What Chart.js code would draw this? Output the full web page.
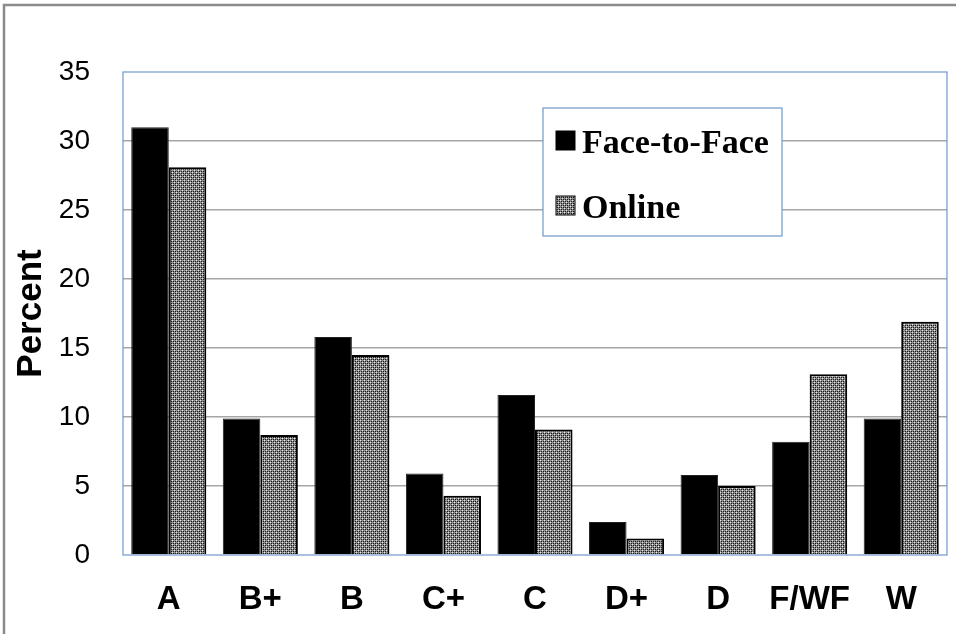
<!DOCTYPE html>
<html>
<head>
<meta charset="utf-8">
<script src="https://cdn.jsdelivr.net/npm/chart.js@4"></script>
<style>
  body { margin: 0; background: #fff; }
</style>
</head>
<body>
<canvas id="myChart" width="956" height="634"></canvas>
<script>
'use strict';

// data
const grades = ['A', 'B+', 'B', 'C+', 'C', 'D+', 'D', 'F/WF', 'W'];
const faceToFace = [31.0, 9.9, 15.8, 5.9, 11.6, 2.4, 5.8, 8.2, 9.9];
const online = [28.1, 8.7, 14.5, 4.3, 9.1, 1.2, 5.0, 13.1, 16.9];
const yTicks = [0, 5, 10, 15, 20, 25, 30, 35];

// gray dotted fill for the online bars
function makePattern() {
  const c = document.createElement('canvas');
  c.width = 4;
  c.height = 4;
  const p = c.getContext('2d');
  p.fillStyle = '#8e8e8e';
  p.fillRect(0, 0, 4, 4);
  p.fillStyle = '#e8e8e8';
  p.fillRect(0, 0, 1, 1);
  p.fillRect(2, 2, 1, 1);
  p.fillStyle = '#1a1a1a';
  p.fillRect(1, 1, 1, 1);
  p.fillRect(3, 3, 1, 1);
  p.fillRect(1, 3, 1, 1);
  p.fillRect(3, 1, 1, 1);
  return p.createPattern(c, 'repeat');
}

const ctx = document.getElementById('myChart');
const pattern = makePattern();
const frameBlue = '#6f98cc';

// outer gray frame and blue plot border
const framePlugin = {
  id: 'frames',
  beforeDraw(chart) {
    const g = chart.ctx;
    g.save();
    g.strokeStyle = '#8a8a8a';
    g.lineWidth = 2.5;
    g.beginPath();
    g.moveTo(4, 634);
    g.lineTo(4, 5);
    g.lineTo(956, 5);
    g.stroke();
    g.restore();
  },
  beforeDatasetsDraw(chart) {
    const a = chart.chartArea;
    const g = chart.ctx;
    g.save();
    g.strokeStyle = frameBlue;
    g.lineWidth = 1.2;
    g.strokeRect(a.left, a.top, a.right - a.left, a.bottom - a.top);
    g.restore();
  }
};

// legend box sitting inside the plot
const boxLegend = {
  id: 'boxLegend',
  afterDraw(chart) {
    const g = chart.ctx;
    g.save();
    g.fillStyle = '#fff';
    g.fillRect(543, 108, 239, 128);
    g.strokeStyle = frameBlue;
    g.lineWidth = 1.2;
    g.strokeRect(543, 108, 239, 128);
    g.font = 'bold 34px "Liberation Serif"';
    g.textBaseline = 'alphabetic';
    chart.data.datasets.forEach((ds, i) => {
      const y = 131 + i * 65;
      g.fillStyle = ds.backgroundColor;
      g.fillRect(556, y, 19, 19);
      g.strokeStyle = '#000';
      g.lineWidth = 1;
      g.strokeRect(556, y, 19, 19);
      g.fillStyle = '#000';
      g.fillText(ds.label, 582, y + 22);
    });
    g.restore();
  }
};

new Chart(ctx, {
  type: 'bar',
  data: {
    labels: grades,
    datasets: [
      {
        label: 'Face-to-Face',
        data: faceToFace,
        backgroundColor: '#000000',
        borderColor: '#222222',
        borderWidth: 1
      },
      {
        label: 'Online',
        data: online,
        backgroundColor: pattern,
        borderColor: '#000000',
        borderWidth: 2
      }
    ]
  },
  options: {
    responsive: false,
    animation: false,
    layout: { padding: { top: 72, right: 9, left: 0, bottom: 0 } },
    datasets: {
      bar: { categoryPercentage: 0.82, barPercentage: 1 }
    },
    plugins: {
      legend: { display: false },
      tooltip: { enabled: false }
    },
    scales: {
      x: {
        grid: { display: false, drawTicks: false },
        border: { display: false },
        ticks: {
          color: '#000',
          padding: 25,
          font: { family: '"Liberation Sans", Arial', size: 33, weight: 'bold' }
        },
        afterFit(scale) { scale.height = 79; }
      },
      y: {
        min: 0,
        max: 35,
        afterBuildTicks(scale) {
          scale.ticks = yTicks.map(v => ({ value: v }));
        },
        grid: {
          drawTicks: false,
          lineWidth: 1.5,
          color: c => (c.tick && (c.tick.value === 0 || c.tick.value === 35)) ? 'rgba(0,0,0,0)' : '#a6a6a6'
        },
        border: { display: false },
        ticks: {
          color: '#000',
          padding: 33,
          font: { family: '"Liberation Sans", Arial', size: 28 }
        },
        title: {
          display: true,
          text: 'Percent',
          color: '#000',
          padding: { top: 10, bottom: 0 },
          font: { family: '"Liberation Sans", Arial', size: 35, weight: 'bold' }
        },
        afterFit(scale) { scale.width = 123; }
      }
    }
  },
  plugins: [framePlugin, boxLegend]
});
</script>
</body>
</html>
